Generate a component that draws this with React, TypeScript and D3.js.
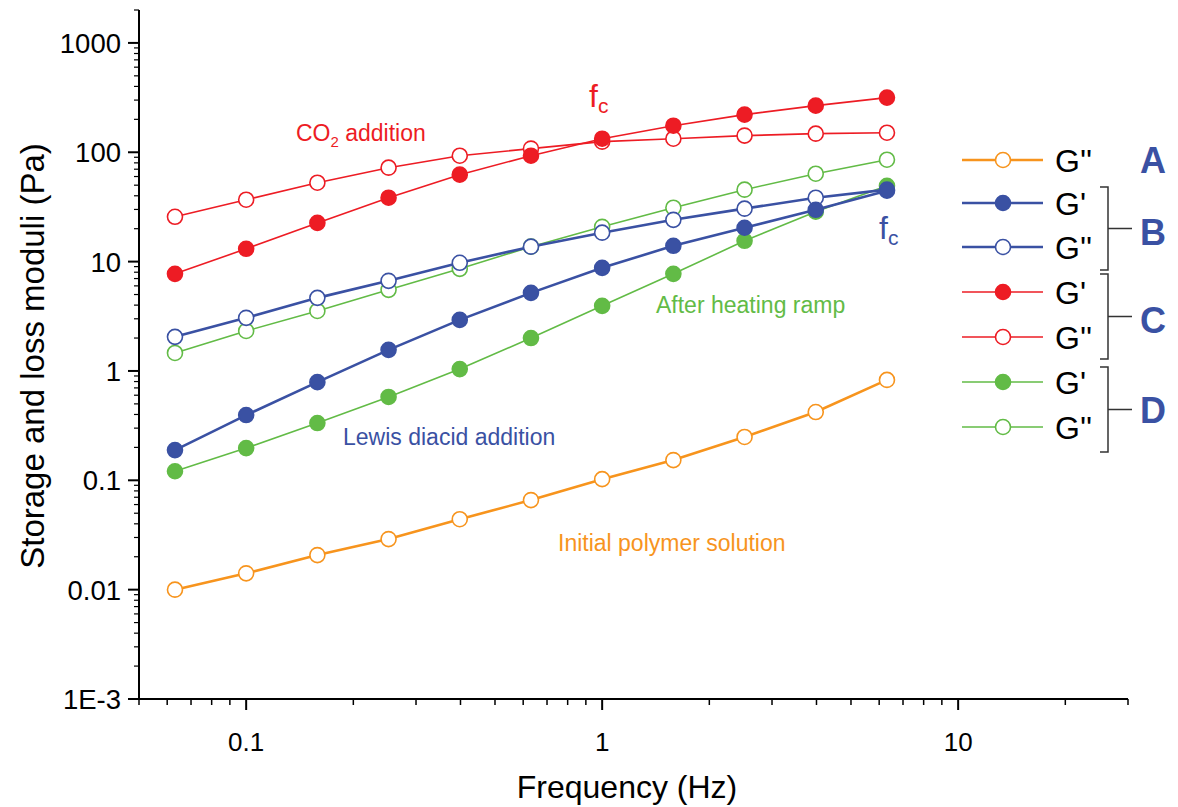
import React from "react";
import * as d3 from "d3";

const freq = [0.0631, 0.1, 0.1585, 0.2512, 0.3981, 0.631, 1, 1.585, 2.512, 3.981, 6.31];
const aGpp = [0.01, 0.0141, 0.0207, 0.029, 0.0441, 0.0659, 0.1025, 0.153, 0.249, 0.421, 0.828];
const bGp = [0.189, 0.395, 0.79, 1.56, 2.93, 5.18, 8.77, 13.95, 20.4, 29.8, 44.5];
const bGpp = [2.05, 3.06, 4.66, 6.67, 9.75, 13.7, 18.4, 24.1, 30.5, 38.4, 45.5];
const cGp = [7.73, 13.1, 22.6, 38.4, 62.4, 93, 133, 175, 221, 267, 316];
const cGpp = [25.7, 36.8, 52.7, 72.3, 93, 108, 125, 133, 142, 148, 151];
const dGp = [0.121, 0.197, 0.334, 0.578, 1.04, 2.0, 3.94, 7.73, 15.5, 28.6, 49.4];
const dGpp = [1.46, 2.32, 3.54, 5.52, 8.59, 13.7, 20.8, 31.1, 45.5, 63.7, 85.5];

const yTickValues = [0.001, 0.01, 0.1, 1, 10, 100, 1000];
const yTickLabels = ["1E-3", "0.01", "0.1", "1", "10", "100", "1000"];
const xTickValues = [0.1, 1, 10];
const xTickLabels = ["0.1", "1", "10"];

const ORANGE = "#f7941d";
const BLUE = "#3a51a3";
const RED = "#ed1c24";
const GREEN = "#62bb46";

type Series = { values: number[]; color: string; filled: boolean; width: number };
const series: Series[] = [
  { values: aGpp, color: ORANGE, filled: false, width: 2.6 },
  { values: dGpp, color: GREEN, filled: false, width: 1.6 },
  { values: dGp, color: GREEN, filled: true, width: 1.6 },
  { values: cGpp, color: RED, filled: false, width: 1.6 },
  { values: cGp, color: RED, filled: true, width: 1.6 },
  { values: bGpp, color: BLUE, filled: false, width: 2.6 },
  { values: bGp, color: BLUE, filled: true, width: 2.6 },
];

const legendItems = [
  { color: ORANGE, filled: false, label: "G''", width: 2.6 },
  { color: BLUE, filled: true, label: "G'", width: 2.6 },
  { color: BLUE, filled: false, label: "G''", width: 2.6 },
  { color: RED, filled: true, label: "G'", width: 1.6 },
  { color: RED, filled: false, label: "G''", width: 1.6 },
  { color: GREEN, filled: true, label: "G'", width: 1.6 },
  { color: GREEN, filled: false, label: "G''", width: 1.6 },
];

const FONT = "'Liberation Sans', Arial, sans-serif";

export default function App() {
  const left = 139, right = 1128, top = 10, bottom = 699;
  const x = d3.scaleLog().domain([0.05, 30]).range([left, right]);
  const y = d3.scaleLog().domain([0.001, 2000]).range([bottom, top]);
  const line = d3.line<number>().x((_, i) => x(freq[i])).y((v) => y(v));

  const xMinor: number[] = [];
  for (const dec of [0.01, 0.1, 1, 10]) {
    for (let k = 2; k <= 9; k++) {
      const v = dec * k;
      if (v >= 0.05 && v <= 30) xMinor.push(v);
    }
  }
  const yMinor: number[] = [];
  for (const dec of [0.001, 0.01, 0.1, 1, 10, 100, 1000]) {
    for (let k = 2; k <= 9; k++) {
      const v = dec * k;
      if (v <= 2000) yMinor.push(v);
    }
  }

  const legY = [160, 203, 247, 292, 337, 382, 427];
  const r = 7.5;

  return (
    <svg width={1178} height={807} style={{ position: "absolute", left: 0, top: 0, background: "#fff" }} fontFamily={FONT}>
      <rect x={0} y={0} width={1178} height={807} fill="#fff" />
      {/* axes */}
      <line x1={left} x2={left} y1={top} y2={bottom} stroke="#000" strokeWidth={2} />
      <line x1={left} x2={right} y1={bottom} y2={bottom} stroke="#000" strokeWidth={2} />
      {yTickValues.map((v, i) => (
        <g key={"yt" + i}>
          <line x1={left - 11} x2={left} y1={y(v)} y2={y(v)} stroke="#000" strokeWidth={2} />
          <text x={left - 18} y={y(v)} dy="0.36em" textAnchor="end" fontSize={27.5}>{yTickLabels[i]}</text>
        </g>
      ))}
      {yMinor.map((v, i) => (
        <line key={"ym" + i} x1={left - 5} x2={left} y1={y(v)} y2={y(v)} stroke="#000" strokeWidth={1.2} />
      ))}
      {xTickValues.map((v, i) => (
        <g key={"xt" + i}>
          <line x1={x(v)} x2={x(v)} y1={bottom} y2={bottom + 11} stroke="#000" strokeWidth={2} />
          <text x={x(v)} y={bottom + 52} textAnchor="middle" fontSize={26}>{xTickLabels[i]}</text>
        </g>
      ))}
      {xMinor.map((v, i) => (
        <line key={"xm" + i} x1={x(v)} x2={x(v)} y1={bottom} y2={bottom + 6} stroke="#000" strokeWidth={1.5} />
      ))}
      <text x={627} y={798} textAnchor="middle" fontSize={32}>Frequency (Hz)</text>
      <text transform={`translate(44,${356}) rotate(-90)`} textAnchor="middle" fontSize={33}>Storage and loss moduli (Pa)</text>

      {/* series */}
      {series.map((s, si) => (
        <g key={"s" + si}>
          <path d={line(s.values) || ""} fill="none" stroke={s.color} strokeWidth={s.width} />
          {s.values.map((v, i) => (
            <circle key={i} cx={x(freq[i])} cy={y(v)} r={r} fill={s.filled ? s.color : "#fff"} stroke={s.color} strokeWidth={1.6} />
          ))}
        </g>
      ))}

      {/* annotations */}
      <text x={296} y={141} fontSize={23} fill={RED}>CO<tspan fontSize={15} dy={6}>2</tspan><tspan dy={-6}> addition</tspan></text>
      <text x={589} y={107} fontSize={32} fill={RED}>f<tspan fontSize={21} dy={6}>c</tspan></text>
      <text x={879} y={239} fontSize={32} fill={BLUE}>f<tspan fontSize={21} dy={6}>c</tspan></text>
      <text x={656} y={313} fontSize={23} fill={GREEN}>After heating ramp</text>
      <text x={343} y={445} fontSize={23} fill={BLUE}>Lewis diacid addition</text>
      <text x={558} y={551} fontSize={23} fill={ORANGE}>Initial polymer solution</text>

      {/* legend */}
      {legendItems.map((it, i) => (
        <g key={"lg" + i}>
          <line x1={962} x2={1043} y1={legY[i]} y2={legY[i]} stroke={it.color} strokeWidth={it.width} />
          <circle cx={1003} cy={legY[i]} r={r} fill={it.filled ? it.color : "#fff"} stroke={it.color} strokeWidth={1.6} />
          <text x={1055} y={legY[i]} dy="0.36em" fontSize={32}>{it.label}</text>
        </g>
      ))}
      {[[187, 270], [274, 359], [367, 452]].map(([a, b], i) => (
        <path key={"br" + i} d={`M1100,${a} H1108 V${b} H1100 M1108,${(a + b) / 2} H1132`} fill="none" stroke="#333" strokeWidth={1.5} />
      ))}
      {[["A", 160], ["B", 232], ["C", 320], ["D", 410]].map(([t, yy]) => (
        <text key={t as string} x={1140} y={yy as number} dy="0.36em" fontSize={36} fontWeight="bold" fill={BLUE}>{t}</text>
      ))}
    </svg>
  );
}
